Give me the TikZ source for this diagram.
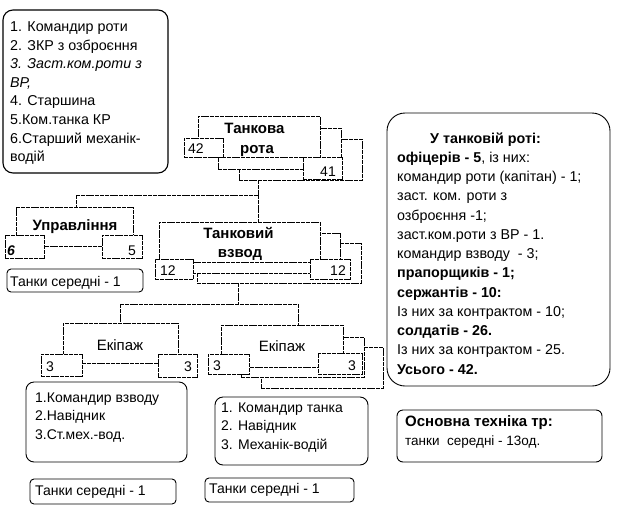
\documentclass[tikz,border=0pt]{standalone}
\usepackage{fontspec}
\setmainfont{Liberation Sans}
\newcommand\fsList{\fontsize{14.3}{16}\selectfont}
\newcommand\fsInfo{\fontsize{14.3}{16}\selectfont}
\newcommand\fsCrew{\fontsize{14}{16}\selectfont}
\newcommand\fsNum{\fontsize{14}{16}\selectfont}
\newcommand\fsHead{\fontsize{15}{17}\selectfont\bfseries}
\newcommand\fsEk{\fontsize{15}{17}\selectfont}
\tikzset{
  ln/.style={line width=0.8pt, dash pattern=on 4pt off 0.8pt},
  card/.style={ln, draw, fill=white, inner sep=0pt, outer sep=0pt, anchor=north west},
  numbox/.style={ln, draw, fill=white, inner sep=0pt, outer sep=0pt, anchor=north west},
  rbox/.style={draw, line width=0.9pt, fill=white, inner sep=0pt, outer sep=0pt, anchor=north west},
  txt/.style={inner sep=0pt, anchor=base west},
  ctxt/.style={inner sep=0pt, anchor=base},
  rtxt/.style={inner sep=0pt, anchor=base east},
}
\begin{document}
\begin{tikzpicture}[x=1pt,y=-1pt]
\useasboundingbox (0,0) rectangle (624,520);
\fill[white] (0,0) rectangle (624,520);

% top-left list
\node[rbox, line width=1.1pt, rounded corners=10pt, minimum width=165pt, minimum height=163pt] (lst) at (3,10) {};
\foreach \t [count=\i] in {1. Командир роти, 2. ЗКР з озброєння, {\itshape 3. Заст.ком.роти з}, {\itshape ВР,}, 4. Старшина, 5.Ком.танка КР, 6.Старший механік-, водій}
  \node[txt, font=\fsList] (lst\i) at (10,{31.5+18.6*(\i-1)}) {\t};

% Танкова рота
\node[card, minimum width=123pt, minimum height=41pt] (r3) at (239,139) {};
\node[card, minimum width=123pt, minimum height=41pt] (r2) at (218,128) {};
\node[card, minimum width=122pt, minimum height=41pt] (r1) at (198,116) {};
\node[numbox, minimum width=39pt, minimum height=19pt] (n42) at (184,138) {};
\node[numbox, minimum width=39pt, minimum height=22pt] (n41) at (303,157) {};
\node[ctxt, font=\fsHead] (rt1) at (254.5,133) {Танкова};
\node[ctxt, font=\fsHead] (rt2) at (257,153) {рота};
\node[txt, font=\fsNum] (t42) at (188,153) {42};
\node[rtxt, font=\fsNum] (t41) at (336,176) {41};

% connectors top
\coordinate (j1) at (258,195);
\coordinate (j0) at (76,195);
\draw[ln] (j1 |- r3.south) -- (j1);
\draw[ln] (j0) -- (j1);

% Управління
\node[card, minimum width=117pt, minimum height=39pt] (u1) at (16,207) {};
\node[numbox, minimum width=39pt, minimum height=23pt] (n6) at (5,235) {};
\node[numbox, minimum width=40pt, minimum height=23pt] (n5) at (102,235) {};
\node[ctxt, font=\fsHead] (ut) at (75,230) {Управління};
\node[txt, font=\fsNum\bfseries\itshape] (t6) at (7,255) {6};
\node[rtxt, font=\fsNum] (t5) at (136,255) {5};
\draw[ln] (j0) -- (j0 |- u1.north);
\node[rbox, rounded corners=4pt, minimum width=136pt, minimum height=23pt] (tk1) at (7,269) {};
\node[txt, font=\fsCrew] (tk1t) at (10,286) {Танки середні - 1};

% Танковий взвод
\node[card, minimum width=164pt, minimum height=40pt] (v3) at (197,243) {};
\node[card, minimum width=162pt, minimum height=40pt] (v2) at (178,233) {};
\node[card, minimum width=161pt, minimum height=40pt] (v1) at (159,222) {};
\node[numbox, minimum width=38pt, minimum height=20pt] (n12a) at (155,259) {};
\node[numbox, minimum width=40pt, minimum height=20pt] (n12b) at (310,259) {};
\node[ctxt, font=\fsHead] (vt1) at (238.5,238) {Танковий};
\node[ctxt, font=\fsHead] (vt2) at (240,257) {взвод};
\node[txt, font=\fsNum] (t12a) at (160,275) {12};
\node[rtxt, font=\fsNum] (t12b) at (346,275) {12};
\draw[ln] (j1) -- (j1 |- v1.north);

% connectors to crews
\coordinate (j2) at (238,304);
\coordinate (j3) at (120,304);
\coordinate (j4) at (298,304);
\draw[ln] (j2 |- v3.south) -- (j2);
\draw[ln] (j3) -- (j4);

% Екіпаж left
\node[card, minimum width=115pt, minimum height=40pt] (ea) at (63,323) {};
\node[numbox, minimum width=41pt, minimum height=22pt] (n3a) at (41,354) {};
\node[numbox, minimum width=39pt, minimum height=23pt] (n3b) at (158,354) {};
\node[ctxt, font=\fsEk] (eat) at (120,350) {Екіпаж};
\node[txt, font=\fsNum] (t3a) at (46,371) {3};
\node[rtxt, font=\fsNum] (t3b) at (192,371) {3};
\draw[ln] (j3) -- (j3 |- ea.north);

% Екіпаж right
\node[card, minimum width=122pt, minimum height=41pt] (ec) at (261,347) {};
\node[card, minimum width=123pt, minimum height=40pt] (eb) at (241,337) {};
\node[card, minimum width=122pt, minimum height=42pt] (ee) at (221,325) {};
\node[numbox, minimum width=41pt, minimum height=20pt] (n3c) at (208,354) {};
\node[numbox, minimum width=44pt, minimum height=21pt] (n3d) at (318,353) {};
\node[ctxt, font=\fsEk] (eet) at (282,351) {Екіпаж};
\node[txt, font=\fsNum] (t3c) at (213,370) {3};
\node[rtxt, font=\fsNum] (t3d) at (356,370) {3};
\draw[ln] (j4) -- (j4 |- ee.north);

% crew lists
\node[rbox, rounded corners=8pt, minimum width=161pt, minimum height=80pt] (c1) at (26,382) {};
\foreach \t [count=\i] in {1.Командир взводу, 2.Навідник, 3.Ст.мех.-вод.}
  \node[txt, font=\fsCrew] (c1l\i) at (35,{402+18.5*(\i-1)}) {\t};
\node[rbox, rounded corners=8pt, minimum width=153pt, minimum height=68pt] (c2) at (215,397) {};
\foreach \t [count=\i] in {1. Командир танка, 2. Навідник, 3. Механік-водій}
  \node[txt, font=\fsCrew] (c2l\i) at (221,{412+18.5*(\i-1)}) {\t};

% tanks boxes
\node[rbox, rounded corners=4pt, minimum width=146pt, minimum height=25pt] (tk2) at (30,479) {};
\node[txt, font=\fsCrew] (tk2t) at (35,495) {Танки середні - 1};
\node[rbox, rounded corners=4pt, minimum width=149pt, minimum height=24pt] (tk3) at (205,478) {};
\node[txt, font=\fsCrew] (tk3t) at (209,493) {Танки середні - 1};

% info box
\node[rbox, rounded corners=18pt, minimum width=223pt, minimum height=273pt] (info) at (387,113) {};
\node[txt, font=\fsInfo\bfseries] (inf0) at (430,143) {У танковій роті:};
\foreach \t [count=\i] in {{{\bfseries офіцерів - 5}, із них:}, командир роти (капітан) - 1;, заст. ком. роти з, озброєння -1;, заст.ком.роти з ВР - 1., командир взводу\ \ - 3;, {\bfseries прапорщиків - 1;}, {\bfseries сержантів - 10:}, Із них за контрактом - 10;, {\bfseries солдатів - 26.}, Із них за контрактом - 25., {\bfseries Усього - 42.}}
  \node[txt, font=\fsInfo] (inf\i) at (397,{143+19.25*\i}) {\t};

% main equipment
\node[rbox, rounded corners=6pt, minimum width=205pt, minimum height=52pt] (tech) at (397,410) {};
\node[txt, font=\fontsize{15}{16}\selectfont\bfseries] (tech1) at (405,426) {Основна техніка тр:};
\node[txt, font=\fontsize{13.5}{16}\selectfont] (tech2) at (405,445) {танки\ \ середні - 13од.};
\end{tikzpicture}
\end{document}
